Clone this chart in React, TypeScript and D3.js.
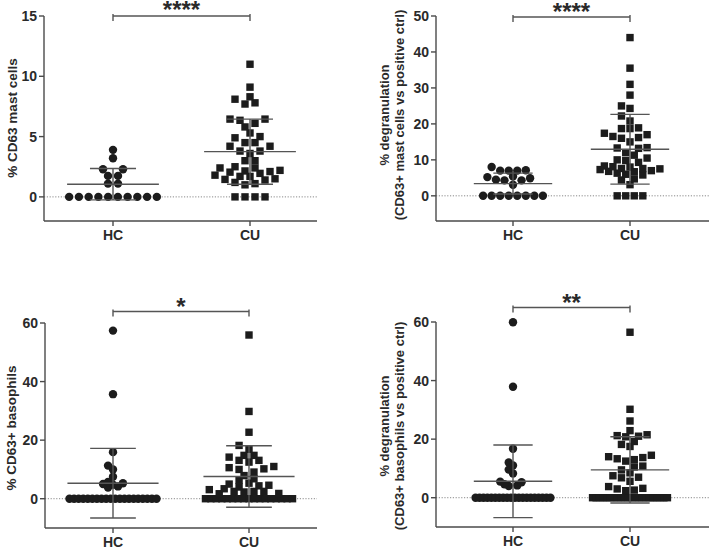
import React from 'react';
import * as d3 from 'd3';

const categories = ['HC', 'CU'];

// Panel A: % CD63 mast cells
const aHC = [0, 0, 0, 0, 0, 0, 0, 0, 0, 0, 1.1, 1.1, 1.74, 1.74, 2.29, 2.29, 3.2, 3.9];
const aCU = [11.0, 9.1, 8.3, 8.1, 7.8, 7.7, 6.45, 6.45, 6.35, 6.1, 5.8, 5.3, 5.0, 4.9, 4.5, 4.5, 4.2, 4.2, 3.8, 3.8, 3.6, 3.0, 3.0, 2.5, 2.4, 2.4, 2.2, 2.15, 2.1, 2.05, 1.95, 1.8, 1.7, 1.7, 1.5, 1.45, 1.4, 1.2, 1.1, 1.0, 0, 0, 0, 0];
const aMean = [1.05, 3.75];
const aSD = [1.3, 2.7];
const aTicks = [0, 5, 10, 15];

// Panel B: % degranulation (mast cells)
const bHC = [0, 0, 0, 0, 0, 0, 0, 0, 3.1, 4.3, 4.3, 4.5, 4.9, 5.2, 5.4, 7.0, 7.0, 7.0, 7.1, 8.0];
const bCU = [44.0, 35.5, 31.0, 28.0, 25.0, 24.3, 22.2, 20.8, 18.9, 18.7, 18.7, 17.4, 17.0, 16.5, 16.2, 16.0, 15.0, 13.4, 13.3, 13.2, 12.0, 11.3, 10.5, 10.0, 9.8, 9.3, 8.3, 8.1, 8.0, 7.6, 7.6, 7.5, 7.3, 7.0, 6.8, 6.7, 6.3, 6.0, 5.8, 4.7, 4.4, 3.1, 0, 0, 0, 0];
const bMean = [3.4, 12.95];
const bSD = [2.9, 9.7];
const bTicks = [0, 10, 20, 30, 40, 50];

// Panel C: % CD63+ basophils
const cHC = [57.4, 35.7, 15.9, 11.3, 10.0, 7.5, 5.7, 5.3, 5.0, 4.8, 4.2, 3.8, 0, 0, 0, 0, 0, 0, 0, 0, 0, 0, 0, 0, 0, 0, 0, 0, 0, 0, 0, 0];
const cCU = [55.9, 29.8, 22.7, 18.2, 16.9, 14.8, 14.8, 14.2, 13.1, 13.1, 12.5, 11.0, 10.6, 10.2, 10.0, 9.1, 7.9, 6.8, 6.3, 5.3, 5.0, 4.6, 4.4, 4.0, 3.4, 3.1, 2.5, 2.5, 2.5, 2.3, 1.8, 1.7, 0, 0, 0, 0, 0, 0, 0, 0, 0, 0, 0, 0, 0, 0, 0, 0, 0];
const cMean = [5.3, 7.6];
const cSD = [11.9, 10.5];
const cTicks = [0, 20, 40, 60];

// Panel D: % degranulation (basophils)
const dHC = [59.9, 37.9, 16.7, 12.0, 11.0, 9.6, 8.3, 5.5, 5.3, 4.6, 4.2, 4.0, 0, 0, 0, 0, 0, 0, 0, 0, 0, 0, 0, 0, 0, 0, 0, 0, 0, 0, 0, 0];
const dCU = [56.5, 30.2, 26.2, 22.9, 21.5, 21.2, 21.0, 20.8, 19.2, 18.2, 17.5, 14.5, 14.0, 13.7, 13.3, 13.0, 12.5, 10.8, 10.5, 9.5, 8.5, 7.5, 7.0, 6.8, 5.6, 3.8, 3.2, 3.0, 2.6, 2.4, 0, 0, 0, 0, 0, 0, 0, 0, 0, 0, 0, 0, 0, 0, 0, 0, 0, 0, 0, 0, 0, 0];
const dMean = [5.6, 9.5];
const dSD = [12.4, 11.3];
const dTicks = [0, 20, 40, 60];

const FONT = "'Liberation Sans', Arial, Helvetica, sans-serif";
const TEXT = '#2a2a2a';
const AXIS = '#4a4a4a';
const MARK = '#1c1c1c';

type PanelCfg = {
  groups: number[][];
  means: number[];
  sds: number[];
  ticks: number[];
  domain: [number, number];
  x0: number; x1: number; hcX: number; cuX: number;
  yTop: number; yBot: number;
  label: string[]; labelX: number[]; labelY: number; labelSize: number;
  stars: string; starBase: number; barY: number;
  coll: number[];
};

const panels: PanelCfg[] = [
  {
    groups: [aHC, aCU], means: aMean, sds: aSD, ticks: aTicks, domain: [-2, 15],
    x0: 44, x1: 317, hcX: 113, cuX: 250, yTop: 16, yBot: 221,
    label: ['% CD63 mast cells'], labelX: [12], labelY: 118, labelSize: 13.5,
    stars: '****', starBase: 18, barY: 16, coll: [7, 7],
  },
  {
    groups: [bHC, bCU], means: bMean, sds: bSD, ticks: bTicks, domain: [-7, 50],
    x0: 436, x1: 709, hcX: 513, cuX: 630, yTop: 16, yBot: 221,
    label: ['% degranulation', '(CD63+ mast cells vs positive ctrl)'], labelX: [384, 399], labelY: 115, labelSize: 13,
    stars: '****', starBase: 19.5, barY: 17, coll: [7, 7],
  },
  {
    groups: [cHC, cCU], means: cMean, sds: cSD, ticks: cTicks, domain: [-10, 60],
    x0: 45, x1: 317, hcX: 113, cuX: 249, yTop: 323, yBot: 528,
    label: ['% CD63+ basophils'], labelX: [11], labelY: 428, labelSize: 13.5,
    stars: '*', starBase: 314.5, barY: 311.5, coll: [4.6, 6.5],
  },
  {
    groups: [dHC, dCU], means: dMean, sds: dSD, ticks: dTicks, domain: [-10, 60],
    x0: 436, x1: 709, hcX: 513, cuX: 630, yTop: 322, yBot: 527,
    label: ['% degranulation', '(CD63+ basophils vs positive ctrl)'], labelX: [384, 399], labelY: 426, labelSize: 13,
    stars: '**', starBase: 311, barY: 307.5, coll: [4.6, 6.5],
  },
];

type Pt = { v: number; x: number; y: number };

function swarm(values: number[], cx: number, y: d3.ScaleLinear<number, number>, spacing: number, maxSpan: number, coll: number): Pt[] {
  const sorted = [...values].sort((a, b) => a - b);
  const rowTol = 1.5;
  const half = maxSpan / 2 + 0.5;
  const placed: Pt[] = [];
  let i = 0;
  while (i < sorted.length) {
    const y0 = y(sorted[i]);
    let j = i;
    while (j < sorted.length && Math.abs(y(sorted[j]) - y0) <= rowTol) j++;
    const row = sorted.slice(i, j);
    const n = row.length;
    if ((n - 1) * spacing > maxSpan) {
      const sp = maxSpan / (n - 1);
      row.forEach((v, k) => placed.push({ v, x: cx + (k - (n - 1) / 2) * sp, y: y(v) }));
    } else {
      const cands: number[] = [];
      if (n % 2 === 1) {
        cands.push(0);
        for (let k = 1; k < 30; k++) { cands.push(-k * 0.5, k * 0.5); }
      } else {
        for (let k = 1; k < 30; k++) { cands.push(-(k * 0.5), k * 0.5); }
      }
      row.forEach((v) => {
        const py = y(v);
        let best = NaN;
        let bestD = -1;
        for (const c of cands) {
          const px = cx + c * spacing;
          if (Math.abs(px - cx) > half) continue;
          let md = Infinity;
          for (const p of placed) {
            const d = Math.hypot(p.x - px, p.y - py);
            if (d < md) md = d;
          }
          if (md >= coll) { best = px; bestD = md; break; }
          if (md > bestD) { bestD = md; best = px; }
        }
        placed.push({ v, x: best, y: py });
      });
    }
    i = j;
  }
  return placed;
}

function Panel({ p }: { p: PanelCfg }) {
  const y = d3.scaleLinear().domain(p.domain).range([p.yBot, p.yTop]);
  const x = d3.scalePoint<string>().domain(categories).range([p.hcX, p.cuX]);
  const step = p.cuX - p.hcX;
  const meanHalf = step * 0.335;
  const sdHalf = step * 0.168;
  const maxSpan = step * 0.64;
  const spacing = step * 0.073;
  const lineColor = '#555';
  return (
    <g>
      <line x1={p.x0} x2={p.x1} y1={y(0)} y2={y(0)} stroke="#8a8a8a" strokeWidth={1} strokeDasharray="1.2,1.6" />
      {p.groups.map((vals, gi) => {
        const cx = x(categories[gi]) as number;
        const pts = swarm(vals, cx, y, spacing, maxSpan, p.coll[gi]);
        return pts.map((pt, k) =>
          gi === 0 ? (
            <circle key={`${gi}-${k}`} cx={pt.x} cy={pt.y} r={4.2} fill={MARK} />
          ) : (
            <rect key={`${gi}-${k}`} x={pt.x - 3.7} y={pt.y - 3.7} width={7.4} height={7.4} fill={MARK} />
          )
        );
      })}
      {categories.map((c, gi) => {
        const cx = x(c) as number;
        const m = p.means[gi];
        const s = p.sds[gi];
        return (
          <g key={c} stroke={lineColor} strokeWidth={1.4} fill="none">
            <line x1={cx - meanHalf} x2={cx + meanHalf} y1={y(m)} y2={y(m)} />
            <line x1={cx} x2={cx} y1={y(m - s)} y2={y(m + s)} />
            <line x1={cx - sdHalf} x2={cx + sdHalf} y1={y(m + s)} y2={y(m + s)} />
            <line x1={cx - sdHalf} x2={cx + sdHalf} y1={y(m - s)} y2={y(m - s)} />
          </g>
        );
      })}
      <line x1={p.x0} x2={p.x0} y1={p.yTop} y2={p.yBot} stroke={AXIS} strokeWidth={1.4} />
      {p.ticks.map((t) => (
        <g key={t}>
          <line x1={p.x0 - 5} x2={p.x0} y1={y(t)} y2={y(t)} stroke={AXIS} strokeWidth={1.4} />
          <text x={p.x0 - 7} y={y(t)} dy="0.36em" textAnchor="end" fontSize={14} fontWeight="bold" fill={TEXT} fontFamily={FONT}>{t}</text>
        </g>
      ))}
      <line x1={p.x0} x2={p.x1} y1={p.yBot} y2={p.yBot} stroke={AXIS} strokeWidth={1.4} />
      {categories.map((c) => (
        <g key={c}>
          <line x1={x(c)} x2={x(c)} y1={p.yBot} y2={p.yBot + 5} stroke={AXIS} strokeWidth={1.4} />
          <text x={x(c)} y={p.yBot + 19} textAnchor="middle" fontSize={14} fontWeight="bold" fill={TEXT} fontFamily={FONT}>{c}</text>
        </g>
      ))}
      {p.label.map((l, li) => (
        <text key={li} transform={`translate(${p.labelX[li]},${p.labelY}) rotate(-90)`} textAnchor="middle" dominantBaseline="central" fontSize={p.labelSize} fontWeight="bold" fill={TEXT} fontFamily={FONT}>{l}</text>
      ))}
      <path d={`M${p.hcX},${p.barY + 5}V${p.barY - 2}M${p.hcX},${p.barY}H${p.cuX}M${p.cuX},${p.barY - 2}V${p.barY + 5}`} fill="none" stroke={lineColor} strokeWidth={1.4} />
      <text x={(p.hcX + p.cuX) / 2} y={p.starBase} textAnchor="middle" fontSize={24} fontWeight="bold" fill={TEXT} fontFamily={FONT}>{p.stars}</text>
    </g>
  );
}

export default function App() {
  return (
    <svg width={709} height={548} style={{ position: 'absolute', left: 0, top: 0, background: '#fff' }}>
      <rect width={709} height={548} fill="#fff" />
      {panels.map((p, i) => <Panel key={i} p={p} />)}
    </svg>
  );
}
